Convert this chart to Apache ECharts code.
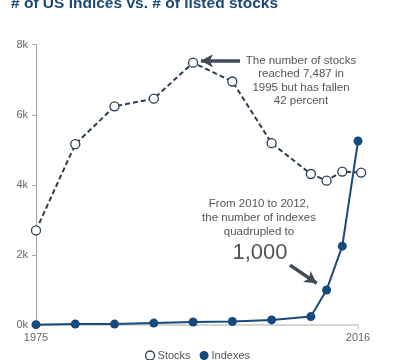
<!DOCTYPE html>
<html>
<head>
<meta charset="utf-8">
<script src="https://cdn.jsdelivr.net/npm/echarts@6/dist/echarts.min.js"></script>
<style>html,body{margin:0;padding:0;background:#fff}#c{width:395px;height:360px}</style>
</head>
<body>
<div id="c"></div>
<script>
const years = [1975, 1980, 1985, 1990, 1995, 2000, 2005, 2010, 2012, 2014, 2016];
const stockYears = [1975, 1980, 1985, 1990, 1995, 2000, 2005, 2010, 2012, 2014, 2016.4];
const stocks = [2700, 5160, 6240, 6460, 7487, 6950, 5190, 4310, 4120, 4380, 4350];
const indexes = [10, 30, 25, 55, 85, 100, 145, 240, 1000, 2250, 5250];
const xTickLabels = [1975, 2016];
const yTicks = [0, 2000, 4000, 6000, 8000];

const FONT = 'Liberation Sans, Arial, sans-serif';
const chart = echarts.init(document.getElementById('c'), null, {renderer: 'canvas'});

chart.setOption({
  animation: false,
  textStyle: {fontFamily: FONT},
  title: {
    text: '# of US Indices vs. # of listed stocks',
    left: 6, top: -9,
    textStyle: {fontFamily: FONT, fontSize: 15.5, fontWeight: 'bold', color: '#1d4a73'}
  },
  grid: {left: 36, right: 37, top: 44.7, bottom: 35},
  xAxis: {
    type: 'value', min: 1975, max: 2016,
    splitLine: {show: false},
    axisLine: {lineStyle: {color: '#c8c8c8', width: 1.5}},
    axisTick: {customValues: xTickLabels, length: 4, lineStyle: {color: '#c8c8c8'}},
    axisLabel: {customValues: xTickLabels, color: '#666', fontSize: 11, fontFamily: FONT, margin: 7, formatter: v => String(v)}
  },
  yAxis: {
    type: 'value', min: 0, max: 8000, interval: 2000,
    splitLine: {show: false},
    axisLine: {show: true, lineStyle: {color: '#a6a6a6', width: 1}},
    axisTick: {show: true, length: 4, lineStyle: {color: '#a6a6a6'}},
    axisLabel: {color: '#666', fontSize: 11, fontFamily: FONT, margin: 8, formatter: v => (v / 1000) + 'k'}
  },
  legend: {
    bottom: -6, left: 'center',
    itemWidth: 9, itemHeight: 9, itemGap: 9,
    textStyle: {color: '#555', fontSize: 11, fontFamily: FONT, padding: [0,0,0,-2]},
    data: [
      {name: 'Stocks', icon: 'circle', itemStyle: {color: '#fff', borderColor: '#2a3d52', borderWidth: 1.3}},
      {name: 'Indexes', icon: 'circle', itemStyle: {color: '#174a7c'}}
    ]
  },
  series: [
    {
      name: 'Stocks', type: 'line', clip: false,
      data: stockYears.map((y, i) => [y, stocks[i]]),
      symbol: 'circle', symbolSize: 9,
      itemStyle: {color: '#fff', borderColor: '#2a3d52', borderWidth: 1.3},
      lineStyle: {color: '#2a3d52', width: 2, type: [5, 3]},
      z: 2,
      markLine: {
        silent: true, symbol: ['none', 'arrow'], symbolSize: [10, 12],
        lineStyle: {color: '#3f4b58', width: 3.5, type: 'solid'},
        label: {show: false},
        data: [
          [{coord: [2000.97, 7540]}, {coord: [1996.0, 7540]}],
          [{coord: [2007.34, 1710]}, {coord: [2010.74, 1190]}]
        ]
      }
    },
    {
      name: 'Indexes', type: 'line', clip: false,
      data: years.map((y, i) => [y, indexes[i]]),
      symbol: 'circle', symbolSize: 9,
      itemStyle: {color: '#174a7c'},
      lineStyle: {color: '#174a7c', width: 2},
      z: 3
    }
  ],
  graphic: [
    {type: 'text', x: 301, y: 54, silent: true,
      style: {text: 'The number of stocks\nreached 7,487 in\n1995 but has fallen\n42 percent', align: 'center', verticalAlign: 'top',
        fill: '#555', font: '11.5px ' + FONT, lineHeight: 13.5}},
    {type: 'text', x: 259, y: 197, silent: true,
      style: {text: 'From 2010 to 2012,\nthe number of indexes\nquadrupled to', align: 'center', verticalAlign: 'top',
        fill: '#555', font: '11.5px ' + FONT, lineHeight: 13.8}},
    {type: 'text', x: 260, y: 253, silent: true,
      style: {text: '1,000', align: 'center', verticalAlign: 'middle', fill: '#555', font: '22px ' + FONT}}
  ]
});
</script>
</body>
</html>
